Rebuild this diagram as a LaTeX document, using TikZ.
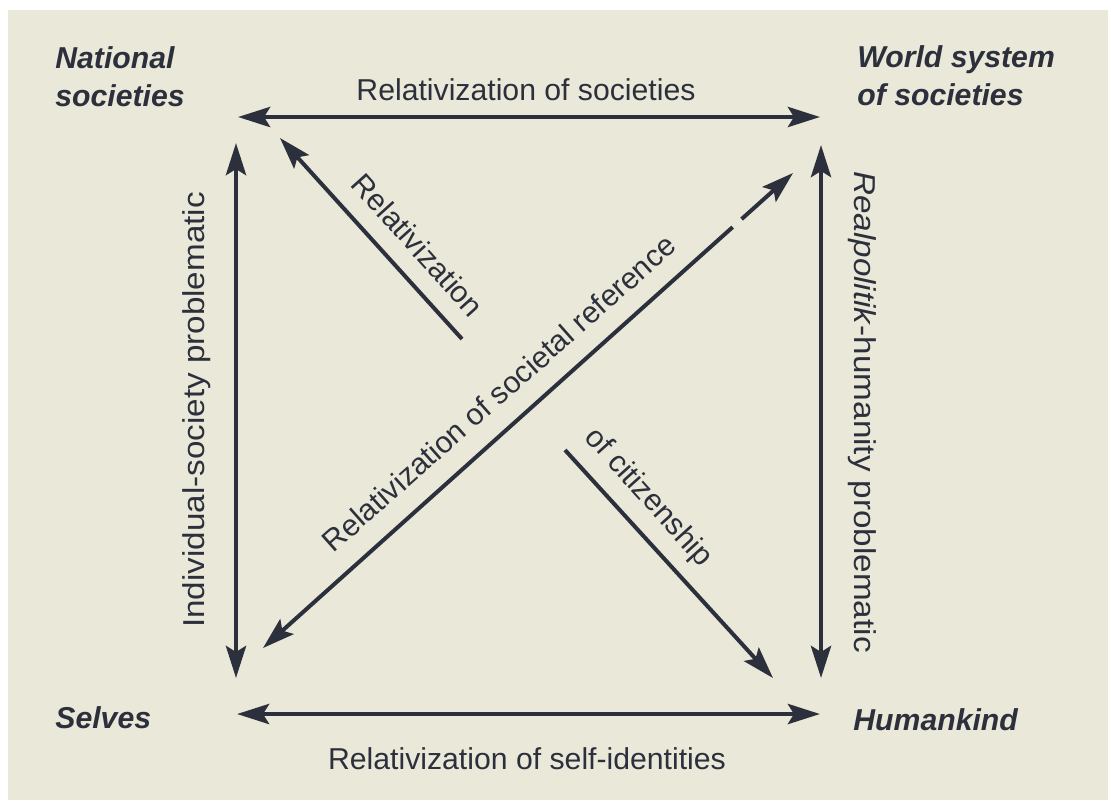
\documentclass[tikz,border=0pt]{standalone}
\usepackage{fontspec}
\setmainfont{Liberation Sans}
\usetikzlibrary{arrows.meta}

\definecolor{paper}{RGB}{234,232,216}
\definecolor{ink}{RGB}{44,48,60}

\tikzset{
	head/.tip={Stealth[length=16pt,width=10pt,inset=3pt]},
	corner/.style={font=\fontsize{15.1}{19}\selectfont\bfseries\itshape, text=ink, inner sep=0pt, align=left},
	lbl/.style={font=\fontsize{15.1}{19}\selectfont, text=ink, inner sep=0pt},
	link/.style={draw=ink, line width=2.4pt},
	oneway/.style={link, line width=2pt, -head},
	twoway/.style={link, head-head}
}

\begin{document}
\begin{tikzpicture}[x=0.5pt,y=-0.5pt]
	\fill[white] (0,0) rectangle (1111,800);
	\fill[paper] (8,10) rectangle (1108,800);
	% the four poles
	\node[corner, anchor=north west] (nat) at (55,46) {National\\societies};
	\node[corner, anchor=north west] (world) at (857,45) {World system\\of societies};
	\node[corner, anchor=base west] (selves) at (55,728) {Selves};
	\node[corner, anchor=base west] (human) at (853,730) {Humankind};
	% arrow ends
	\coordinate (natT) at (238,117);
	\coordinate (worldT) at (820,117);
	\coordinate (selvesB) at (237,714);
	\coordinate (humanB) at (820,714);
	\coordinate (natL) at (236,143);
	\coordinate (selvesL) at (236,678);
	\coordinate (worldR) at (821,145);
	\coordinate (humanR) at (821,678);
	\coordinate (selvesD) at (263,648);
	\coordinate (worldD) at (793,173);
	\coordinate (relS) at (462,339);
	\coordinate (natD) at (280,138);
	\coordinate (citS) at (565,450);
	\coordinate (humanD) at (773,678);
	% square
	\draw[twoway] (natT) -- (worldT);
	\draw[twoway] (selvesB) -- (humanB);
	\draw[twoway] (natL) -- (selvesL);
	\draw[twoway] (worldR) -- (humanR);
	% diagonals
	\draw[twoway, line width=2pt, dash pattern=on 303pt off 6pt on 200pt] (selvesD) -- (worldD);
	\draw[oneway] (relS) -- (natD);
	\draw[oneway] (citS) -- (humanD);
	% labels
	\node[lbl, anchor=base] (topL) at (526,100) {Relativization of societies};
	\node[lbl, anchor=base] (botL) at (527,769) {Relativization of self-identities};
	\node[lbl, rotate=90, xscale=1.1] (leftL) at (197,410) {Individual-society problematic};
	\node[lbl, rotate=-90, xscale=1.1] (rightL) at (862,412) {\textit{Realpolitik}-humanity problematic};
	\node[lbl, rotate=41.5] (diagL) at (499,393) {Relativization of societal reference};
	\node[lbl, rotate=-48] (relL) at (418,245) {Relativization};
	\node[lbl, rotate=-48] (citL) at (648,498) {of citizenship};
\end{tikzpicture}
\end{document}
